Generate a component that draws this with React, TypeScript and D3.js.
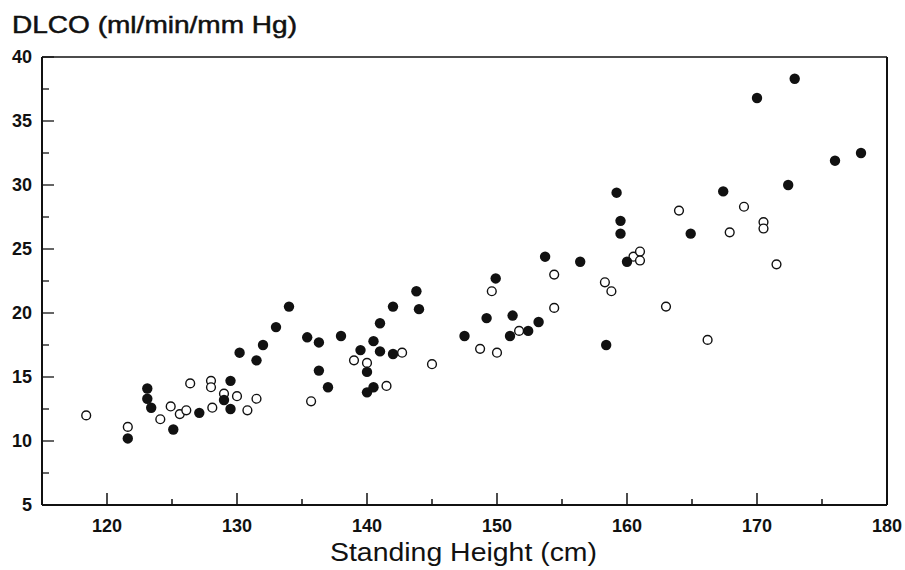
import React, { useEffect } from "react";
import * as d3 from "d3";

// Standing height (cm) and DLCO (ml/min/mm Hg)
const openHeight = [118.4, 121.6, 124.1, 124.9, 125.6, 126.1, 126.4, 128.0, 128.0, 128.1, 129.0, 130.0, 130.8, 131.5, 135.7, 139.0, 140.0, 141.5, 142.7, 145.0, 148.7, 149.6, 150.0, 151.7, 154.4, 154.4, 158.3, 158.8, 160.5, 161.0, 161.0, 163.0, 164.0, 166.2, 167.9, 169.0, 170.5, 170.5, 171.5];
const openDlco = [12.0, 11.1, 11.7, 12.7, 12.1, 12.4, 14.5, 14.7, 14.2, 12.6, 13.7, 13.5, 12.4, 13.3, 13.1, 16.3, 16.1, 14.3, 16.9, 16.0, 17.2, 21.7, 16.9, 18.6, 23.0, 20.4, 22.4, 21.7, 24.4, 24.8, 24.1, 20.5, 28.0, 17.9, 26.3, 28.3, 27.1, 26.6, 23.8];

const filledHeight = [121.6, 123.1, 123.1, 123.4, 125.1, 127.1, 129.0, 129.5, 129.5, 130.2, 131.5, 132.0, 133.0, 134.0, 135.4, 136.3, 136.3, 137.0, 138.0, 139.5, 140.0, 140.0, 140.5, 140.5, 141.0, 141.0, 142.0, 142.0, 143.8, 144.0, 147.5, 149.2, 149.9, 151.0, 151.2, 152.4, 153.2, 153.7, 156.4, 158.4, 159.2, 159.5, 159.5, 160.0, 164.9, 167.4, 170.0, 172.4, 172.9, 176.0, 178.0];
const filledDlco = [10.2, 14.1, 13.3, 12.6, 10.9, 12.2, 13.2, 14.7, 12.5, 16.9, 16.3, 17.5, 18.9, 20.5, 18.1, 17.7, 15.5, 14.2, 18.2, 17.1, 15.4, 13.8, 14.2, 17.8, 19.2, 17.0, 20.5, 16.8, 21.7, 20.3, 18.2, 19.6, 22.7, 18.2, 19.8, 18.6, 19.3, 24.4, 24.0, 17.5, 29.4, 27.2, 26.2, 24.0, 26.2, 29.5, 36.8, 30.0, 38.3, 31.9, 32.5];

const xTicks = [120, 130, 140, 150, 160, 170, 180];
const xMinorTicks = [125, 135, 145, 155, 165, 175];
const yTicks = [5, 10, 15, 20, 25, 30, 35, 40];
const yMinorTicks = [7.5, 12.5, 17.5, 22.5, 27.5, 32.5, 37.5];

const yTitle = "DLCO (ml/min/mm Hg)";
const xTitle = "Standing Height (cm)";

const W = 905;
const H = 570;
const FONT = "'Liberation Sans', Arial, Helvetica, sans-serif";

export default function App() {
  useEffect(() => {
    document.body.style.margin = "0";
  }, []);

  const x = d3.scaleLinear().domain([115, 180]).range([42, 887]);
  const y = d3.scaleLinear().domain([5, 40]).range([505, 57]);

  const openPts = openHeight.map((h, i) => ({ h, v: openDlco[i] }));
  const filledPts = filledHeight.map((h, i) => ({ h, v: filledDlco[i] }));

  return (
    <svg width={W} height={H} style={{ display: "block", background: "#fff" }}>
      <rect x={0} y={0} width={W} height={H} fill="#fff" />
      {/* frame */}
      <line x1={x(115)} x2={x(180)} y1={y(40)} y2={y(40)} stroke="#111" strokeWidth={1.5} />
      <line x1={x(180)} x2={x(180)} y1={y(40)} y2={y(5)} stroke="#111" strokeWidth={2} />
      <line x1={x(115)} x2={x(180)} y1={y(5)} y2={y(5)} stroke="#111" strokeWidth={2} />
      <line x1={x(115)} x2={x(115)} y1={y(40)} y2={y(5)} stroke="#111" strokeWidth={2} />

      {/* y ticks */}
      {yTicks.map((t) => (
        <g key={"y" + t}>
          <line x1={x(115)} x2={x(115) + 12} y1={y(t)} y2={y(t)} stroke="#111" strokeWidth={1.3} />
          <text x={32} y={y(t)} dy="0.36em" textAnchor="end" fontFamily={FONT} fontWeight="bold" fontSize={18} fill="#111">
            {t}
          </text>
        </g>
      ))}
      {yMinorTicks.map((t) => (
        <line key={"ym" + t} x1={x(115)} x2={x(115) + 7} y1={y(t)} y2={y(t)} stroke="#111" strokeWidth={1.3} />
      ))}

      {/* x ticks */}
      {xTicks.map((t) => (
        <g key={"x" + t}>
          <line x1={x(t)} x2={x(t)} y1={y(5)} y2={y(5) - 12} stroke="#111" strokeWidth={1.5} />
          <text x={x(t)} y={532} textAnchor="middle" fontFamily={FONT} fontWeight="bold" fontSize={18} fill="#111">
            {t}
          </text>
        </g>
      ))}
      {xMinorTicks.map((t) => (
        <line key={"xm" + t} x1={x(t)} x2={x(t)} y1={y(5)} y2={y(5) - 6} stroke="#111" strokeWidth={1.5} />
      ))}

      {/* points */}
      {openPts.map((p, i) => (
        <circle key={"o" + i} cx={x(p.h)} cy={y(p.v)} r={4.4} fill="#fff" stroke="#111" strokeWidth={1.4} />
      ))}
      {filledPts.map((p, i) => (
        <circle key={"f" + i} cx={x(p.h)} cy={y(p.v)} r={5.2} fill="#111" />
      ))}

      {/* titles */}
      <text x={12} y={33} fontFamily={FONT} fontSize={24} fill="#111" stroke="#111" strokeWidth={0.5} textLength={285} lengthAdjust="spacingAndGlyphs">
        {yTitle}
      </text>
      <text x={330} y={561} fontFamily={FONT} fontSize={25} fill="#111" textLength={267} lengthAdjust="spacingAndGlyphs">
        {xTitle}
      </text>
    </svg>
  );
}
